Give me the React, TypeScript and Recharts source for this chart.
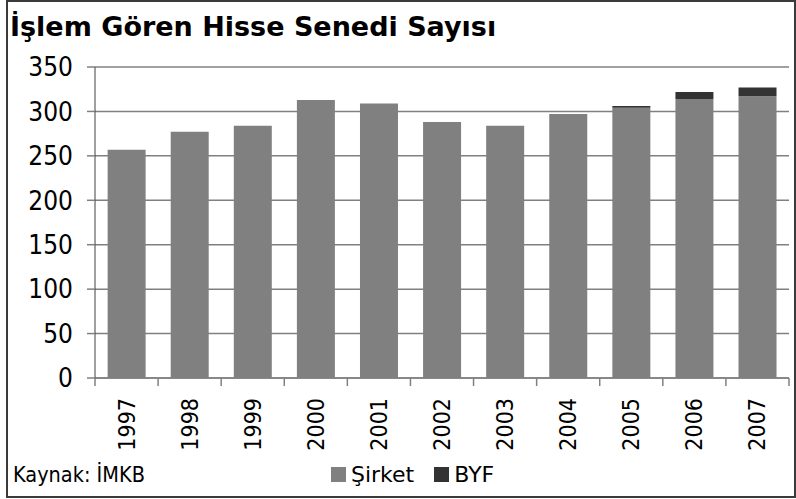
import { Bar, BarChart, CartesianGrid, XAxis, YAxis } from "recharts";

const years = ["1997", "1998", "1999", "2000", "2001", "2002", "2003", "2004", "2005", "2006", "2007"];
const sirket = [257, 277, 284, 313, 309, 288, 284, 297, 304, 314, 317];
const byf = [0, 0, 0, 0, 0, 0, 0, 0, 2, 8, 10];
const yTicks = [0, 50, 100, 150, 200, 250, 300, 350];

const FONT = '"DejaVu Sans Condensed", "DejaVu Sans", sans-serif';
const WIDE = '"DejaVu Sans", sans-serif';

const data = years.map((year, idx) => ({
  year,
  sirket: sirket[idx],
  byf: byf[idx]
}));

function YearTick(props: any) {
  const { x, y, payload, index, width, visibleTicksCount } = props;
  const band = width / visibleTicksCount;
  const left = x - band / 2;
  const right = x + band / 2;
  return (
    <g>
      <line x1={left} x2={left} y1={y - 8} y2={y} stroke="#808080" strokeWidth={1.5} />
      {index === visibleTicksCount - 1 && (
        <line x1={right} x2={right} y1={y - 8} y2={y} stroke="#808080" strokeWidth={1.5} />
      )}
      <text
        transform={`translate(${x},${y + 12}) rotate(-90)`}
        textAnchor="end"
        dominantBaseline="central"
        fontSize={23}
        fontFamily={FONT}
        fill="#000"
      >
        {payload.value}
      </text>
    </g>
  );
}

const legendItems = [
  { label: "Şirket", color: "#808080" },
  { label: "BYF", color: "#333333" }
];

export default function App() {
  return (
    <div style={{ position: "absolute", left: 0, top: 0, width: 796, height: 499, background: "#fff" }}>
      <div
        style={{
          position: "absolute",
          left: 6,
          top: 0,
          width: 786,
          height: 494,
          border: "2px solid #3a3a3a"
        }}
      />
      <div
        style={{
          position: "absolute",
          left: 10,
          top: 11,
          fontFamily: WIDE,
          fontWeight: "bold",
          fontSize: 27,
          lineHeight: "31px",
          color: "#000",
          whiteSpace: "nowrap"
        }}
      >
        İşlem Gören Hisse Senedi Sayısı
      </div>
      <div
        style={{
          position: "absolute",
          left: 13,
          top: 462,
          fontFamily: FONT,
          fontSize: 21.5,
          lineHeight: "25px",
          color: "#000",
          whiteSpace: "nowrap"
        }}
      >
        Kaynak: İMKB
      </div>
      <div
        style={{
          position: "absolute",
          left: 331,
          top: 462,
          display: "flex",
          alignItems: "center",
          fontFamily: WIDE,
          fontSize: 22,
          lineHeight: "25px",
          whiteSpace: "nowrap"
        }}
      >
        {legendItems.map((it) => (
          <div key={it.label} style={{ display: "flex", alignItems: "center", marginRight: 20 }}>
            <span style={{ width: 15, height: 15, background: it.color, display: "inline-block", marginRight: 5 }} />
            <span>{it.label}</span>
          </div>
        ))}
      </div>
      <BarChart
        width={796}
        height={499}
        data={data}
        margin={{ top: 67, right: 7, bottom: 41, left: 0 }}
        barCategoryGap="20%"
        style={{ position: "absolute", left: 0, top: 0 }}
      >
        <CartesianGrid vertical={false} stroke="#808080" strokeWidth={1.5} />
        <XAxis
          dataKey="year"
          height={80}
          tick={<YearTick />}
          tickLine={false}
          axisLine={{ stroke: "#808080", strokeWidth: 1.5 }}
          interval={0}
        />
        <YAxis
          width={95}
          domain={[0, 350]}
          ticks={yTicks}
          tickSize={8}
          tickMargin={14}
          tickLine={{ stroke: "#808080", strokeWidth: 1.5 }}
          axisLine={{ stroke: "#404040", strokeWidth: 1 }}
          tick={{ fontSize: 26, fontFamily: FONT, fill: "#000" }}
        />
        <Bar dataKey="sirket" stackId="a" fill="#808080" isAnimationActive={false} />
        <Bar dataKey="byf" stackId="a" fill="#333333" isAnimationActive={false} />
      </BarChart>
    </div>
  );
}
